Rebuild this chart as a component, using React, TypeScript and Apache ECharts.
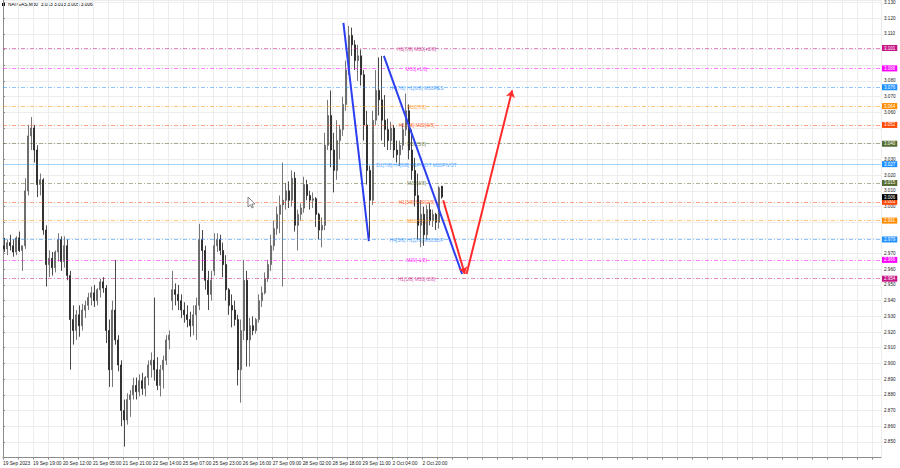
import React, { useEffect, useRef } from "react";
import * as echarts from "echarts";

const chartTitle = "NATGAS,M30  3.013 3.013 3.005 3.006";

const dateLabels = [
  "19 Sep 2023", "19 Sep 19:00", "20 Sep 12:00", "21 Sep 05:00", "21 Sep 21:00",
  "22 Sep 14:00", "25 Sep 07:00", "25 Sep 23:00", "26 Sep 16:00", "27 Sep 09:00",
  "28 Sep 02:00", "28 Sep 18:00", "29 Sep 11:00", "2 Oct 04:00", "2 Oct 20:00",
];

const opens = [
  2.975, 2.973, 2.977, 2.975, 2.971, 2.980, 2.972, 2.975, 3.010, 3.045,
  3.050, 3.036, 3.014, 3.017, 2.985, 2.963, 2.967, 2.961, 2.971, 2.979,
  2.965, 2.975, 2.956, 2.928, 2.921, 2.931, 2.924, 2.934, 2.937, 2.942,
  2.945, 2.940, 2.947, 2.952, 2.948, 2.921, 2.896, 2.934, 2.915, 2.899,
  2.870, 2.864, 2.877, 2.880, 2.886, 2.882, 2.889, 2.884, 2.891, 2.899,
  2.902, 2.896, 2.886, 2.896, 2.902, 2.915, 2.940, 2.947, 2.944, 2.940,
  2.934, 2.931, 2.928, 2.924, 2.931, 2.937, 2.979, 2.972, 2.953, 2.944,
  2.959, 2.975, 2.979, 2.972, 2.963, 2.947, 2.937, 2.934, 2.928, 2.896,
  2.921, 2.953, 2.915, 2.924, 2.921, 2.928, 2.940, 2.945, 2.954, 2.963,
  2.975, 2.986, 2.995, 3.001, 3.004, 3.010, 3.004, 3.018, 2.988, 2.995,
  2.999, 3.014, 3.007, 3.004, 3.005, 2.995, 2.985, 2.988, 3.039, 3.058,
  3.036, 3.023, 3.042, 3.049, 3.065, 3.087, 3.109, 3.103, 3.093, 3.096,
  3.084, 3.052, 3.023, 3.004, 3.055, 3.074, 3.068, 3.055, 3.049, 3.042,
  3.050, 3.036, 3.033, 3.039, 3.049, 3.061, 3.036, 3.023, 3.007, 2.988,
  2.995, 2.982, 2.998, 2.991, 2.995, 2.990, 3.013,
];

const highs = [
  2.980, 2.979, 2.982, 2.979, 2.981, 2.984, 2.975, 3.018, 3.052, 3.057,
  3.052, 3.039, 3.021, 3.018, 2.988, 2.972, 2.971, 2.972, 2.983, 2.981,
  2.981, 2.979, 2.959, 2.937, 2.934, 2.937, 2.938, 2.940, 2.945, 2.949,
  2.950, 2.948, 2.954, 2.955, 2.950, 2.928, 2.940, 2.966, 2.918, 2.902,
  2.877, 2.881, 2.883, 2.891, 2.891, 2.893, 2.894, 2.892, 2.902, 2.907,
  2.942, 2.904, 2.899, 2.905, 2.918, 2.921, 2.959, 2.951, 2.950, 2.944,
  2.939, 2.937, 2.933, 2.937, 2.942, 2.989, 2.985, 2.975, 2.959, 2.959,
  2.983, 2.983, 2.982, 2.977, 2.969, 2.948, 2.944, 2.940, 2.931, 2.928,
  2.966, 2.959, 2.929, 2.930, 2.929, 2.944, 2.949, 2.958, 2.966, 2.982,
  2.991, 3.000, 3.007, 3.028, 3.015, 3.016, 3.023, 3.022, 2.998, 3.002,
  3.019, 3.017, 3.010, 3.009, 3.006, 2.996, 2.993, 3.047, 3.068, 3.074,
  3.047, 3.055, 3.052, 3.070, 3.093, 3.115, 3.114, 3.106, 3.103, 3.100,
  3.087, 3.061, 3.026, 3.061, 3.087, 3.095, 3.096, 3.071, 3.056, 3.054,
  3.052, 3.042, 3.042, 3.053, 3.072, 3.065, 3.049, 3.031, 3.021, 3.004,
  3.000, 3.001, 3.002, 2.998, 2.996, 3.013, 3.013,
];

const lows = [
  2.971, 2.969, 2.972, 2.968, 2.969, 2.971, 2.959, 2.973, 3.007, 3.036,
  3.028, 3.006, 3.007, 2.982, 2.949, 2.955, 2.956, 2.958, 2.965, 2.959,
  2.961, 2.953, 2.896, 2.912, 2.915, 2.917, 2.921, 2.929, 2.934, 2.937,
  2.936, 2.937, 2.942, 2.945, 2.913, 2.885, 2.885, 2.912, 2.895, 2.860,
  2.847, 2.861, 2.866, 2.877, 2.877, 2.879, 2.880, 2.879, 2.886, 2.891,
  2.889, 2.883, 2.879, 2.884, 2.899, 2.909, 2.934, 2.937, 2.934, 2.929,
  2.926, 2.923, 2.917, 2.918, 2.915, 2.934, 2.959, 2.947, 2.934, 2.940,
  2.956, 2.971, 2.969, 2.955, 2.940, 2.931, 2.923, 2.924, 2.886, 2.875,
  2.915, 2.898, 2.898, 2.918, 2.919, 2.926, 2.936, 2.944, 2.952, 2.959,
  2.972, 2.982, 2.983, 2.949, 2.998, 2.999, 3.000, 2.984, 2.972, 2.991,
  2.996, 3.004, 2.998, 2.999, 2.987, 2.979, 2.974, 2.985, 3.036, 3.025,
  3.009, 3.017, 3.030, 3.045, 3.061, 3.084, 3.096, 3.087, 3.080, 3.077,
  3.042, 3.014, 2.980, 3.001, 3.052, 3.058, 3.042, 3.038, 3.036, 3.036,
  3.031, 3.028, 3.026, 3.036, 3.045, 3.030, 3.017, 3.000, 2.979, 2.974,
  2.975, 2.979, 2.988, 2.987, 2.985, 2.986, 3.005,
];

const closes = [
  2.973, 2.977, 2.975, 2.971, 2.980, 2.972, 2.975, 3.010, 3.045, 3.050,
  3.036, 3.014, 3.017, 2.985, 2.963, 2.967, 2.961, 2.971, 2.979, 2.965,
  2.975, 2.956, 2.928, 2.921, 2.931, 2.924, 2.934, 2.937, 2.942, 2.945,
  2.940, 2.947, 2.952, 2.948, 2.921, 2.896, 2.934, 2.915, 2.899, 2.870,
  2.864, 2.877, 2.880, 2.886, 2.882, 2.889, 2.884, 2.891, 2.899, 2.902,
  2.896, 2.886, 2.896, 2.902, 2.915, 2.918, 2.947, 2.944, 2.940, 2.934,
  2.931, 2.928, 2.924, 2.931, 2.937, 2.979, 2.972, 2.953, 2.944, 2.953,
  2.975, 2.979, 2.972, 2.963, 2.947, 2.937, 2.934, 2.928, 2.896, 2.921,
  2.953, 2.915, 2.924, 2.921, 2.928, 2.940, 2.945, 2.954, 2.963, 2.975,
  2.986, 2.995, 3.001, 3.004, 3.010, 3.004, 3.018, 2.988, 2.995, 2.999,
  3.014, 3.007, 3.004, 3.005, 2.995, 2.985, 2.988, 3.039, 3.058, 3.036,
  3.023, 3.042, 3.049, 3.065, 3.087, 3.109, 3.103, 3.093, 3.096, 3.084,
  3.052, 3.023, 3.004, 3.055, 3.074, 3.068, 3.055, 3.049, 3.042, 3.050,
  3.036, 3.033, 3.039, 3.049, 3.061, 3.036, 3.023, 3.007, 2.988, 2.995,
  2.982, 2.998, 2.991, 2.995, 2.990, 3.012, 3.006,
];

const levelPrices = [3.101, 3.088, 3.076, 3.064, 3.052, 3.040, 3.027, 3.015, 3.003, 2.991, 2.979, 2.966, 2.954];
const levelNames = [
  "H1[7/8] M30[+2/8]", "M30[+1/8]", "H4[7/8] H1[6/8] M30RES", "M30[7/8]",
  "H1[5/8] M30[6/8]", "M30[5/8]", "D1[7/8] H4[6/8] H1PIVOT M30PIVOT", "M30[3/8]",
  "H1[3/8] M30[2/8]", "M30[1/8]", "H4[5/8] H1[2/8] M30SUP", "M30[-1/8]", "H1[1/8] M30[-2/8]",
];
const levelColors = [
  "#c71585", "#ff00ff", "#1e90ff", "#ff8c00", "#ff4500", "#556b2f", "#1e90ff",
  "#556b2f", "#ff4500", "#ff8c00", "#1e90ff", "#ff00ff", "#c71585",
];
const levelLabelSlot = 138;
const lastPrice = 3.006;

const blueLines = [
  [[113.6, 3.117], [122.1, 2.978]],
  [[127.1, 3.096], [153.2, 2.957]],
];
const redArrows = [
  [[146.9, 3.004], [154.1, 2.957]],
  [[154.7, 2.957], [169.9, 3.074]],
];

const SLOT_COUNT = 293;

export default function App() {
  const ref = useRef<HTMLDivElement>(null);
  useEffect(() => {
    document.body.style.margin = "0";
    const chart = echarts.init(ref.current!, null, { renderer: "svg" });
    const font = "Liberation Sans, Arial, sans-serif";
    const candleData = opens.map((o, i) => [o, closes[i], lows[i], highs[i]]);
    const categories = Array.from({ length: SLOT_COUNT }, (_, i) => String(i));
    const boxPrices = levelPrices.concat([lastPrice]);

    const boxLabel = (text: string, bg: string) => ({
      show: true,
      position: "end",
      formatter: text,
      color: "#fff",
      backgroundColor: bg,
      padding: [1, 2, 0, 2],
      fontSize: 4.5,
      fontFamily: font,
      distance: 1,
      opacity: 1,
    });

    const markLineData: any[] = levelPrices.map((p, i) => ({
      yAxis: p,
      lineStyle: {
        color: echarts.color.modifyAlpha(levelColors[i], i === 6 ? 0.4 : 0.5),
        type: i === 6 ? "solid" : [4, 2, 1, 2],
        width: 1,
      },
      label: boxLabel(p.toFixed(3), levelColors[i]),
    }));
    markLineData.push({
      yAxis: lastPrice,
      lineStyle: { color: "rgba(0,0,0,0)" },
      label: boxLabel(lastPrice.toFixed(3), "#000"),
    });

    const option: any = {
      animation: false,
      backgroundColor: "#ffffff",
      textStyle: { fontFamily: font },
      grid: { left: 2, right: 19, top: 0, bottom: 10.4 },
      graphic: [
        { type: "rect", left: 2, top: 3, shape: { width: 3, height: 3 }, style: { fill: "#111" } },
        {
          type: "text",
          left: 8,
          top: 2,
          style: { text: chartTitle, fontSize: 4.8, fontFamily: font, fill: "#000" },
        },
        {
          type: "polygon",
          shape: {
            points: [[248, 197], [248, 207], [250.5, 204.8], [252, 208], [253.3, 207.4], [251.8, 204.2], [255, 204]],
          },
          style: { fill: "#fff", stroke: "#666", lineWidth: 0.8 },
          z: 100,
        },
      ],
      xAxis: [
        {
          type: "category",
          data: categories,
          show: false,
          boundaryGap: true,
        },
        {
          type: "value",
          min: 0,
          max: SLOT_COUNT,
          interval: 5,
          position: "bottom",
          axisLine: { show: true, onZero: false, lineStyle: { color: "#8c8c8c" } },
          axisTick: { show: true, length: 2, lineStyle: { color: "#8c8c8c" } },
          axisLabel: {
            fontSize: 4.8,
            color: "#222",
            align: "left",
            margin: 3,
            showMaxLabel: false,
            formatter: (v: number) => {
              const k = Math.round(v);
              return k % 10 === 0 && k / 10 < dateLabels.length ? dateLabels[k / 10] : "";
            },
          },
          splitLine: { show: true, lineStyle: { color: "#ededed", width: 1 } },
        },
      ],
      yAxis: [
        {
          type: "value",
          position: "right",
          min: 2.84,
          max: 3.1313,
          interval: 0.01,
          scale: true,
          axisLine: { show: true, lineStyle: { color: "#8c8c8c" } },
          axisTick: { show: true, length: 2, lineStyle: { color: "#8c8c8c" } },
          axisLabel: {
            fontSize: 4.6,
            color: "#222",
            margin: 3,
            showMinLabel: false,
            formatter: (v: number) =>
              boxPrices.some((b) => Math.abs(b - v) < 0.0029) ? "" : v.toFixed(3),
          },
          splitLine: { show: true, lineStyle: { color: "#ededed", width: 1 } },
        },
        {
          type: "value",
          position: "left",
          min: 2.84,
          max: 3.1313,
          axisLine: { show: true, lineStyle: { color: "#8c8c8c" } },
          axisTick: { show: false },
          axisLabel: { show: false },
          splitLine: { show: false },
        },
      ],
      series: [
        {
          type: "scatter",
          xAxisIndex: 1,
          yAxisIndex: 0,
          symbolSize: 0,
          silent: true,
          z: 1,
          data: levelPrices.map((p, i) => ({
            value: [levelLabelSlot, p],
            label: { color: levelColors[i] },
          })),
          label: {
            show: true,
            position: [0, 1],
            align: "center",
            verticalAlign: "middle",
            fontSize: 4.9,
            fontFamily: font,
            formatter: (prm: any) => levelNames[prm.dataIndex],
          },
          markLine: {
            silent: true,
            precision: 3,
            symbol: ["none", "none"],
            data: markLineData,
          },
        },
        {
          type: "candlestick",
          xAxisIndex: 0,
          yAxisIndex: 0,
          data: candleData,
          barWidth: 1.5,
          z: 3,
          itemStyle: {
            color: "#9a9a9a",
            color0: "#202020",
            borderColor: "#555555",
            borderColor0: "#1a1a1a",
            borderWidth: 0.8,
          },
        },
        {
          type: "lines",
          coordinateSystem: "cartesian2d",
          xAxisIndex: 1,
          yAxisIndex: 0,
          z: 5,
          symbol: ["none", "none"],
          lineStyle: { color: "#2b3ff0", width: 2, opacity: 1 },
          data: blueLines.map((c) => ({ coords: c })),
        },
        {
          type: "lines",
          coordinateSystem: "cartesian2d",
          xAxisIndex: 1,
          yAxisIndex: 0,
          z: 6,
          symbol: ["none", "arrow"],
          symbolSize: 7,
          lineStyle: { color: "#ff2a2a", width: 2, opacity: 1 },
          data: redArrows.map((c) => ({ coords: c })),
        },
      ],
    };
    chart.setOption(option);
    return () => chart.dispose();
  }, []);
  return (
    <div
      ref={ref}
      style={{ position: "fixed", left: 0, top: 0, width: 900, height: 468, background: "#fff" }}
    />
  );
}
